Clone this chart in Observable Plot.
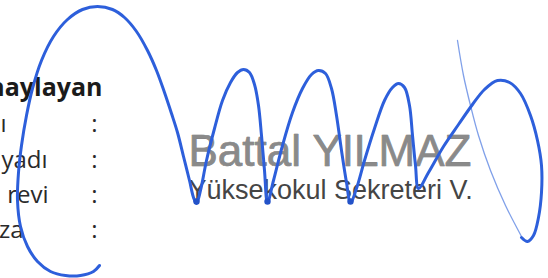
<!DOCTYPE html>
<html><head><meta charset="utf-8">
<script src="https://cdn.jsdelivr.net/npm/d3@7"></script>
<script src="https://cdn.jsdelivr.net/npm/@observablehq/plot@0.6"></script>
<style>html,body{margin:0;padding:0;background:#fff;overflow:hidden}</style>
</head><body><div id="chart"></div>
<script>
// Form labels (left column, cut off at the page edge)
const formLabels = ["naylayan", "ı", "yadı", "revi", "za"];
const formLabelRight = [102, 6, 47, 48, 23];
const formLabelBase = [95, 131, 167, 202, 237];
const formBold = [true, false, false, false, false];
const colonX = [94, 94, 94, 94];
const colonBase = [131, 167, 202, 237];

// Printed stamp text
const stampLines = ["Battal YILMAZ", "Yüksekokul Sekreteri V."];
const stampLeft = [188, 188];
const stampBase = [165, 198];

// Signature main stroke
const sigX = [99, 93, 80, 65, 50, 37, 27, 20, 17, 18, 21, 26, 32, 41, 53, 67, 82, 97, 112, 124, 136, 147, 156, 164, 171, 177, 183, 189, 193, 196,
  200, 206, 214, 222, 230, 237, 243, 249, 254, 258, 261, 264, 267,
  273, 282, 292, 302, 311, 318, 325, 331, 336, 341, 346, 350,
  356, 364, 374, 384, 392, 398, 404, 409, 412, 415, 418,
  428, 443, 458, 472, 484, 497, 509, 520, 530, 537, 541, 541, 538, 533, 527, 521];
const sigY = [265, 271, 275, 275, 271, 261, 246, 226, 200, 172, 145, 115, 88, 60, 36, 19, 9, 6, 9, 17, 31, 50, 70, 92, 113, 132, 156, 180, 197, 203,
  190, 160, 128, 100, 82, 72, 69, 72, 84, 105, 135, 170, 202,
  180, 145, 112, 88, 74, 70, 73, 88, 115, 150, 182, 202,
  188, 160, 128, 100, 87, 83, 87, 105, 135, 165, 188,
  172, 146, 124, 104, 89, 80, 82, 93, 115, 140, 165, 192, 217, 235, 241, 237];
// Thin return stroke
const tailX = [521, 505, 490, 478, 470, 463, 457];
const tailY = [236, 205, 170, 135, 105, 75, 40];
// Ink blots at the valleys
const blotX = [196, 267, 350];
const blotY = [201, 201, 201];

const sig = sigX.map((x, i) => ({x, y: sigY[i]}));
const tail = tailX.map((x, i) => ({x, y: tailY[i]}));
const blots = blotX.map((x, i) => ({x, y: blotY[i]}));
const labels = formLabels.map((t, i) => ({t, x: formLabelRight[i], y: formLabelBase[i], b: formBold[i]}));
const colons = colonX.map((x, i) => ({x, y: colonBase[i]}));
const stamp = stampLines.map((t, i) => ({t, x: stampLeft[i], y: stampBase[i]}));

const chart = Plot.plot({
  width: 548, height: 278,
  margin: 0,
  x: {domain: [0, 548], axis: null},
  y: {domain: [0, 278], axis: null, reverse: true},
  style: {background: "#fff", overflow: "hidden"},
  marks: [
    Plot.text(labels.filter(d => d.b), {x: "x", y: "y", text: "t", textAnchor: "end", lineAnchor: "bottom", fontFamily: "Open Sans", fontWeight: 700, fontSize: 25, fill: "#1b1b1b"}),
    Plot.text(labels.filter(d => !d.b), {x: "x", y: "y", text: "t", textAnchor: "end", lineAnchor: "bottom", fontFamily: "Open Sans", fontSize: 24, fill: "#2a2a2a"}),
    Plot.text(colons, {x: "x", y: "y", text: () => ":", textAnchor: "middle", lineAnchor: "bottom", fontFamily: "Open Sans", fontSize: 24, fill: "#2a2a2a"}),
    Plot.text(stamp.slice(0, 1), {x: "x", y: "y", text: "t", textAnchor: "start", lineAnchor: "bottom", fontFamily: "Liberation Sans", fontSize: 44, fill: "#8a8a8a", stroke: "#6a6a6a", strokeWidth: 0.6}),
    Plot.text(stamp.slice(1), {x: "x", y: "y", text: "t", textAnchor: "start", lineAnchor: "bottom", fontFamily: "Liberation Sans", fontSize: 27, fill: "#454545"}),
    Plot.line(tail, {x: "x", y: "y", curve: "catmull-rom", stroke: "#4a78e0", strokeWidth: 1.3, strokeOpacity: 0.7}),
    Plot.line(sig, {x: "x", y: "y", curve: "catmull-rom", stroke: "#2d5fdb", strokeWidth: 3, strokeLinecap: "round", strokeLinejoin: "round"}),
    Plot.dot(blots, {x: "x", y: "y", r: 3.2, fill: "#2352c8"})
  ]
});
document.getElementById("chart").append(chart);
</script>
</body></html>
